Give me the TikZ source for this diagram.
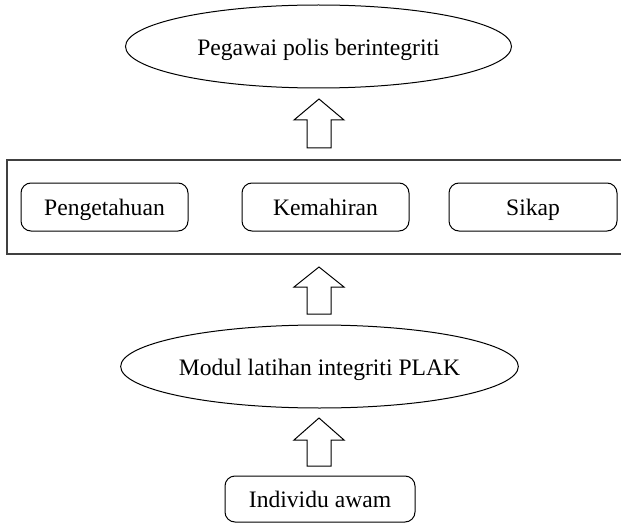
\documentclass[tikz,border=0pt]{standalone}
\usepackage{fontspec}
\setmainfont{Liberation Serif}
\usetikzlibrary{shapes.geometric}
\begin{document}
\begin{tikzpicture}[x=0.5pt,y=-0.5pt,
  every node/.style={font=\fontsize{11.8}{14}\selectfont},
  oval/.style={draw,line width=0.5pt,ellipse,inner sep=0pt,minimum width=193pt,minimum height=41.5pt,text height=9.6pt,text depth=0.9pt},
  rbox/.style={draw,line width=0.5pt,rounded corners=5pt,inner sep=0pt,minimum height=24pt,text height=9.6pt,text depth=0.9pt},
  frame/.style={draw=black!75,line width=0.75pt},
  blockarrow/.style={draw,line width=0.5pt,fill=white}]
\useasboundingbox (0,0) rectangle (621,524);
\node[oval] (top) at (318.5,46.5) {Pegawai polis berintegriti};
\draw[frame] (7,160) rectangle (625,254);
\node[rbox,minimum width=83.5pt] (p) at (104.5,207) {Pengetahuan};
\node[rbox,minimum width=83.5pt] (k) at (325.5,207) {Kemahiran};
\node[rbox,minimum width=84pt] (s) at (533,207) {Sikap};
\node[oval] (mod) at (319.5,366.5) {Modul latihan integriti PLAK};
\node[rbox,minimum width=95pt,minimum height=23pt] (ind) at (320,499) {Individu awam};
\draw[blockarrow] (307,148) -- (307,120) -- (294,120) -- (319,99) -- (344,120) -- (331,120) -- (331,148) -- cycle;
\draw[blockarrow] (307,314) -- (307,287) -- (294,287) -- (319,267) -- (344,287) -- (331,287) -- (331,314) -- cycle;
\draw[blockarrow] (307,466) -- (307,440) -- (294,440) -- (319,418) -- (344,440) -- (331,440) -- (331,466) -- cycle;
\end{tikzpicture}
\end{document}
